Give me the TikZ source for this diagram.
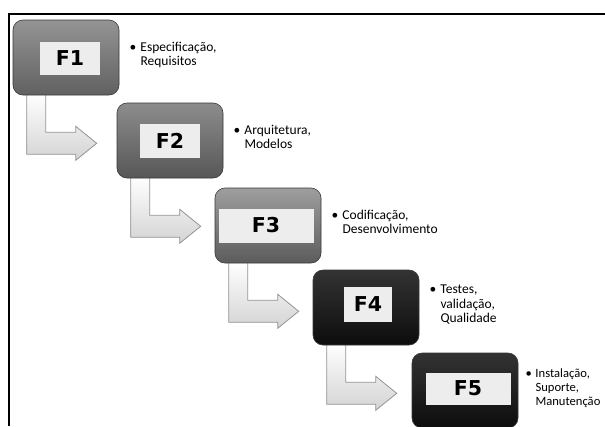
\documentclass[tikz,border=0pt]{standalone}
\usepackage{fontspec}
\setmainfont{Carlito}
\newfontfamily\lblfont{DejaVu Sans}
\usetikzlibrary{calc}
\pgfdeclarelayer{background}
\pgfsetlayers{background,main}
\newcommand\flowarrow[1]{%
  \draw[flow] ($(#1.south west)+(14,-2)$) -- ($(#1.south west)+(14,59)$)
    -- ($(#1.south west)+(63,59)$) -- ($(#1.south west)+(63,65)$)
    -- ($(#1.south west)+(84,48)$) -- ($(#1.south west)+(63,31)$)
    -- ($(#1.south west)+(63,37)$) -- ($(#1.south west)+(33,37)$)
    -- ($(#1.south west)+(33,-2)$) -- cycle;}
\begin{document}
\begin{tikzpicture}[x=1pt,y=-1pt,
  phase/.style={rounded corners=10pt, minimum width=106pt, minimum height=75pt,
    inner sep=0pt, draw=black!78, line width=0.6pt},
  grayphase/.style={phase, top color=black!42, bottom color=black!62},
  darkphase/.style={phase, top color=black!80, bottom color=black!95},
  lbl/.style={fill=black!7, inner sep=0pt, text=black,
    font=\lblfont\bfseries\fontsize{20.5}{24}\selectfont},
  note/.style={anchor=west, inner sep=0pt, font=\fontsize{13.5}{14.5}\selectfont},
  flow/.style={draw=black!42, line width=0.8pt, top color=white, bottom color=black!17, line join=miter},
  frame/.style={draw=black, line width=2.2pt}
]
\useasboundingbox (0,0) rectangle (605,426);
\clip (0,0) rectangle (605,426);
\draw[frame] (9,426) -- (9,14) -- (606,14);

% phase boxes
\node[grayphase] (f1) at (66,57.5) {};
\node[grayphase, top color=black!45, bottom color=black!66] (f2) at (170,140.5) {};
\node[grayphase, top color=black!38, bottom color=black!64] (f3) at (268,225.5) {};
\node[darkphase] (f4) at (366,307.5) {};
\node[darkphase] (f5) at (465,390.5) {};

% labels
\node[lbl, minimum width=60pt, minimum height=33pt] (f1l) at ($(f1.center)+(4,1)$) {F1};
\node[lbl, minimum width=60pt, minimum height=34pt] (f2l) at ($(f2.center)+(0,0)$) {F2};
\node[lbl, minimum width=95pt, minimum height=34pt] (f3l) at ($(f3.center)+(-2,0)$) {F3};
\node[lbl, minimum width=48pt, minimum height=35pt] (f4l) at ($(f4.center)+(2,-3)$) {F4};
\node[lbl, minimum width=85pt, minimum height=32pt] (f5l) at ($(f5.center)+(3,-2)$) {F5};

% notes
\node[note] (n1) at ($(f1.east)+(10,-2)$) {\begin{tabular}{@{}p{11pt}@{}l@{}}\textbullet & Especificação,\\ & Requisitos\end{tabular}};
\node[note] (n2) at ($(f2.east)+(10,-2)$) {\begin{tabular}{@{}p{11pt}@{}l@{}}\textbullet & Arquitetura,\\ & Modelos\end{tabular}};
\node[note] (n3) at ($(f3.east)+(10,-2)$) {\begin{tabular}{@{}p{11pt}@{}l@{}}\textbullet & Codificação,\\ & Desenvolvimento\end{tabular}};
\node[note] (n4) at ($(f4.east)+(10,-2)$) {\begin{tabular}{@{}p{11pt}@{}l@{}}\textbullet & Testes,\\ & validação,\\ & Qualidade\end{tabular}};
\node[note, font=\fontsize{12.6}{14}\selectfont] (n5) at ($(f5.east)+(7,-2)$) {\begin{tabular}{@{}p{10pt}@{}l@{}}\textbullet & Instalação,\\ & Suporte,\\ & Manutenção\end{tabular}};

% flow arrows (behind boxes)
\begin{pgfonlayer}{background}
\fill[white] (0,0) rectangle (605,426);
\flowarrow{f1}
\flowarrow{f2}
\flowarrow{f3}
\flowarrow{f4}
\end{pgfonlayer}
\end{tikzpicture}
\end{document}
